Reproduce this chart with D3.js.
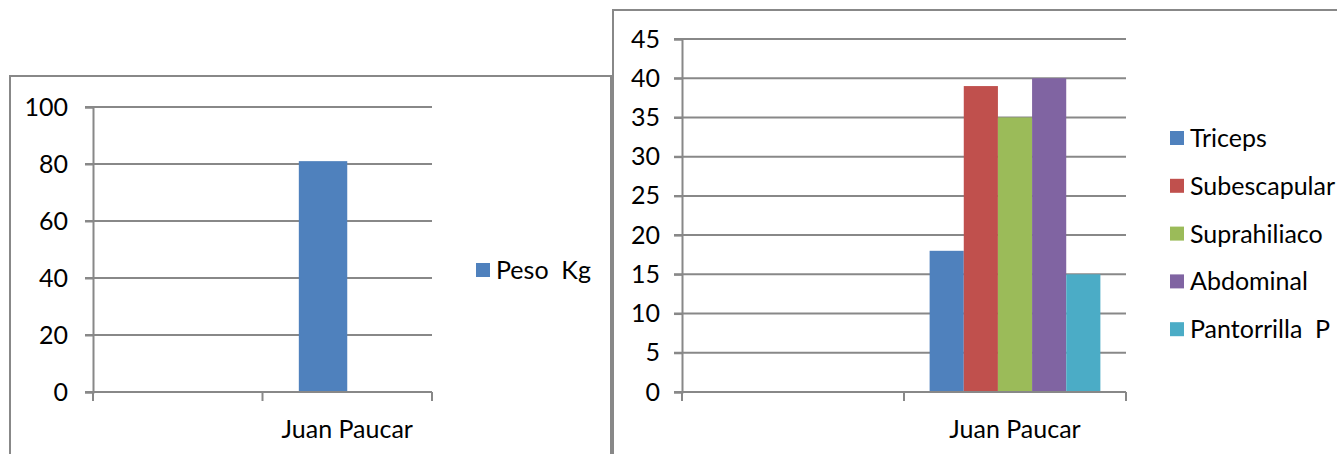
<!DOCTYPE html>
<html>
<head>
<meta charset='utf-8'>
<title>Peso y pliegues - Juan Paucar</title>
<script src='https://d3js.org/d3.v7.min.js'></script>
<style>
  body {margin:0; background:#fff;}
  text {font-family:Lato,'Open Sans',sans-serif; fill:#000; white-space:pre;}
</style>
</head>
<body>
<svg id='chart' width='1337' height='454'></svg>
<script>
// data
var categories=['','Juan Paucar'];           // first slot is empty in the original
var pesoSeries=['Peso  Kg',''];               // second series is blank
var pesoValues=[[null,null],[81,null]];       // per category, per series
var pesoTicks=[0,20,40,60,80,100];

var foldSeries=['Triceps','Subescapular','Suprahiliaco','Abdominal','Pantorrilla  P'];
var foldValues=[[null,null,null,null,null],[18,39,35,40,15]];
var foldTicks=[0,5,10,15,20,25,30,35,40,45];
var foldColors=['#4f81bd','#c0504d','#9bbb59','#8064a2','#4bacc6'];

var svg=d3.select('#chart');
var gray='#888',fs=25;

// chart frames
svg.append('rect').attr('x',10).attr('y',76).attr('width',601).attr('height',400)
   .attr('fill','none').attr('stroke',gray).attr('stroke-width',2);
svg.append('rect').attr('x',613).attr('y',10).attr('width',740).attr('height',470)
   .attr('fill','none').attr('stroke',gray).attr('stroke-width',2);

function drawChart(o){
  var x=d3.scaleBand().domain(d3.range(categories.length)).range([o.x0,o.x1]);
  var xs=d3.scaleBand().domain(o.series.map(function(d,i){return i;}))
           .range([0,x.bandwidth()]).paddingInner(0).paddingOuter(0.75);
  var y=d3.scaleLinear().domain([0,d3.max(o.ticks)]).range([o.y0,o.y1]);
  var g=svg.append('g');

  // gridlines
  g.selectAll('.grid').data(o.ticks).enter().append('line')
   .attr('x1',o.x0-8).attr('x2',o.x1)
   .attr('y1',function(d){return y(d);}).attr('y2',function(d){return y(d);})
   .attr('stroke',gray).attr('stroke-width',2);

  // y axis
  var ya=g.append('g').attr('transform','translate('+o.x0+',0)')
          .call(d3.axisLeft(y).tickValues(o.ticks).tickSize(8).tickPadding(o.pad));
  ya.selectAll('line,path').attr('stroke',gray).attr('stroke-width',2);
  ya.selectAll('text').attr('font-size',fs).attr('font-family','Lato').attr('fill','#000');

  // bars
  o.values.forEach(function(row,ci){
    row.forEach(function(v,si){
      if(v==null) return;
      g.append('rect').attr('x',x(ci)+xs(si)).attr('width',xs.bandwidth())
       .attr('y',y(v)).attr('height',y(0)-y(v)).attr('fill',o.colors[si]);
    });
  });

  // x axis with ticks at category boundaries
  g.append('line').attr('x1',o.x0).attr('x2',o.x1).attr('y1',o.y0).attr('y2',o.y0)
   .attr('stroke',gray).attr('stroke-width',2);
  var edges=categories.map(function(d,i){return x(i);}).concat([o.x1]);
  g.selectAll('.xt').data(edges).enter().append('line')
   .attr('x1',function(d){return d;}).attr('x2',function(d){return d;})
   .attr('y1',o.y0).attr('y2',o.y0+9).attr('stroke',gray).attr('stroke-width',2);
  g.selectAll('.xl').data(categories).enter().append('text')
   .attr('x',function(d,i){return x(i)+x.bandwidth()/2;}).attr('y',438)
   .attr('text-anchor','middle').attr('font-size',fs).text(function(d){return d;});

  // legend
  var items=o.series.filter(function(d){return d!=='';});
  var lg=g.selectAll('.lg').data(items).enter().append('g')
          .attr('transform',function(d,i){return 'translate('+o.lx+','+(o.ly+i*47.8)+')';});
  lg.append('rect').attr('x',0).attr('y',-7).attr('width',14).attr('height',14)
    .attr('fill',function(d,i){return o.colors[i];});
  lg.append('text').attr('x',20).attr('y',0).attr('dy','0.36em')
    .attr('font-size',fs).text(function(d){return d;});
}

drawChart({x0:93,x1:432,y0:392,y1:107,ticks:pesoTicks,series:pesoSeries,
           values:pesoValues,colors:['#4f81bd','none'],pad:17,lx:476,ly:270});
drawChart({x0:682,x1:1126,y0:392,y1:39,ticks:foldTicks,series:foldSeries,
           values:foldValues,colors:foldColors,pad:14,lx:1170,ly:138});
</script>
</body>
</html>
